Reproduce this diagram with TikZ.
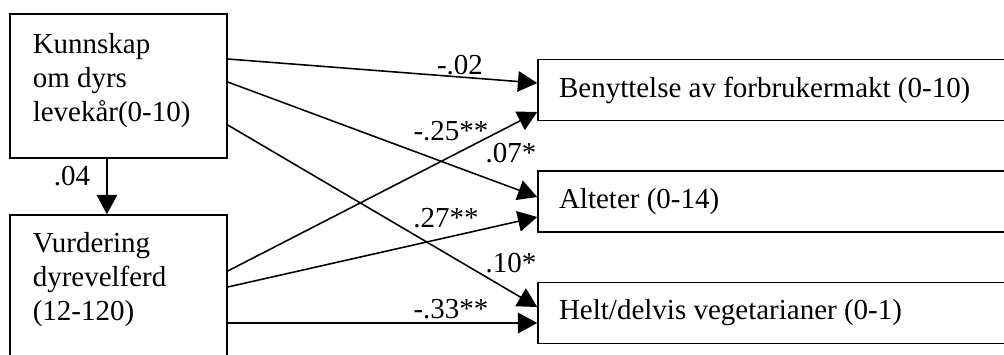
\documentclass[tikz,border=0pt]{standalone}
\usepackage{fontspec}
\setmainfont{Liberation Serif}
\usetikzlibrary{arrows.meta}

\begin{document}
\begin{tikzpicture}[x=0.414pt, y=-0.414pt, line width=0.65pt, font=\fontsize{12}{14}\selectfont,
  >={Triangle[length=8pt, width=8.5pt]},
  varbox/.style={draw, inner sep=0pt, minimum width=89.8pt},
  outbox/.style={draw, inner sep=0pt, minimum width=207.8pt, minimum height=25.3pt},
  coef/.style={anchor=base, inner sep=0pt}]
\clip (0, 0) rectangle (1004, 354);

\node[varbox, minimum height=59.6pt] (kunnskap box) at (118.5, 86) {};
\node[anchor=north west, align=left, inner sep=0pt] (kunnskap label) at (32, 32.5) {Kunnskap\\om dyrs\\levekår(0-10)};

\node[varbox, minimum height=82.8pt] (vurdering box) at (118.5, 315) {};
\node[anchor=north west, align=left, inner sep=0pt] (vurdering label) at (32, 232) {Vurdering\\dyrevelferd\\(12-120)};

\node[outbox] (benyttelse box) at (789, 90) {};
\node[anchor=west, inner sep=0pt] (benyttelse label) at ([xshift=8.7pt] benyttelse box.west) {Benyttelse av forbrukermakt (0-10)};

\node[outbox] (alteter box) at (789, 201.5) {};
\node[anchor=west, inner sep=0pt] (alteter label) at ([xshift=8.7pt] alteter box.west) {Alteter (0-14)};

\node[outbox] (vegetar box) at (789, 313) {};
\node[anchor=west, inner sep=0pt] (vegetar label) at ([xshift=8.7pt] vegetar box.west) {Helt/delvis vegetarianer (0-1)};

\draw[->] ([xshift=-4.8pt] kunnskap box.south) -- ([xshift=-4.8pt] vurdering box.north) {};
\node[coef] (coef kv) at (72, 185) {.04};

\draw[->] (kunnskap box.east |- 0,59) -- (benyttelse box.west |- 0,83) {};
\draw[->] (kunnskap box.east |- 0,82) -- (alteter box.west |- 0,197) {};
\draw[->] (kunnskap box.east |- 0,125) -- (vegetar box.west |- 0,307) {};

\draw[->] (vurdering box.east |- 0,271) -- (benyttelse box.west |- 0,112) {};
\draw[->] (vurdering box.east |- 0,287) -- (alteter box.west |- 0,217) {};
\draw[->] (vurdering box.east |- 0,323) -- (vegetar box.west |- 0,323) {};

\node[coef] (coef kb) at (460, 74) {-.02};
\node[coef] (coef ka) at (511, 162) {.07*};
\node[coef] (coef kh) at (511, 272) {.10*};
\node[coef] (coef vb) at (451, 140) {-.25**};
\node[coef] (coef va) at (446, 227) {.27**};
\node[coef] (coef vh) at (451, 318) {-.33**};
\end{tikzpicture}
\end{document}
